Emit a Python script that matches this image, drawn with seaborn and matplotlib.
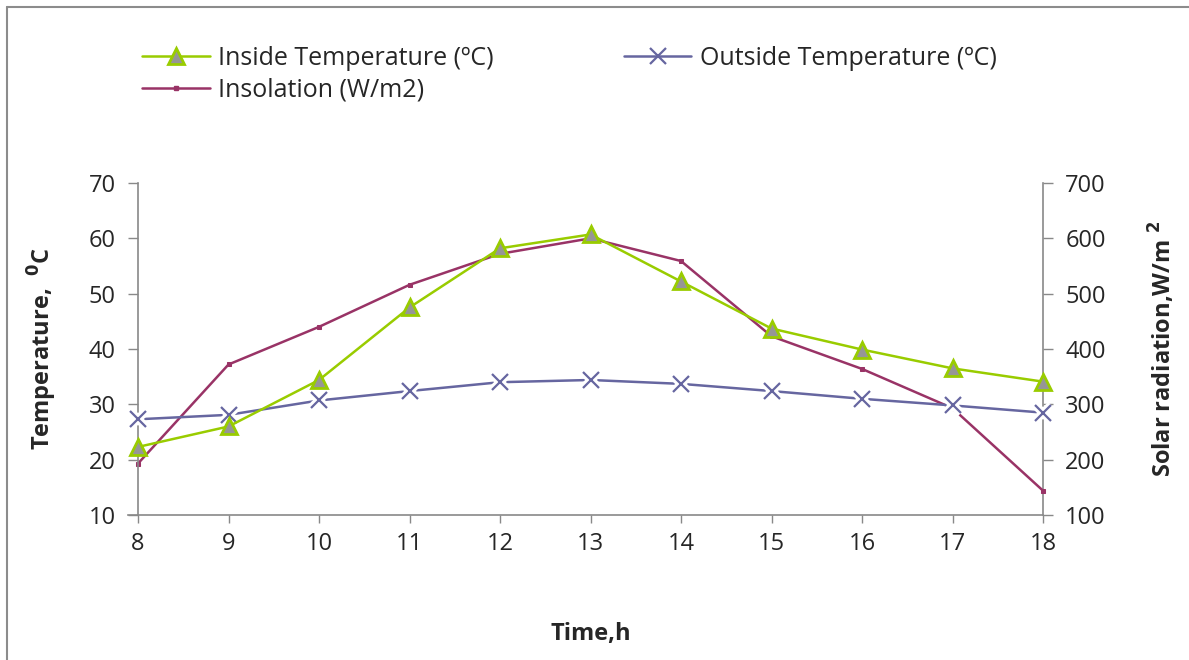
import matplotlib
matplotlib.use("Agg")
import matplotlib.pyplot as plt
import seaborn as sns
from matplotlib.lines import Line2D

hours = [8, 9, 10, 11, 12, 13, 14, 15, 16, 17, 18]
inside_temp = [22.3, 26.0, 34.4, 47.5, 58.2, 60.7, 52.2, 43.7, 39.9, 36.5, 34.1]
outside_temp = [27.3, 28.1, 30.7, 32.4, 34.0, 34.4, 33.7, 32.4, 31.0, 29.8, 28.5]
insolation = [193, 372, 440, 516, 572, 600, 559, 423, 364, 293, 144]

temp_ticks = [10, 20, 30, 40, 50, 60, 70]
rad_ticks = [100, 200, 300, 400, 500, 600, 700]

green = "#99CC00"
blue = "#6666A0"
maroon = "#993366"
grid_grey = "#898989"

sns.set_style("white")
plt.rcParams["font.family"] = ["Open Sans", "DejaVu Sans"]

fig = plt.figure(figsize=(11.89, 6.60), dpi=100)
ax = fig.add_axes([138 / 1189, 1 - 515 / 660, (1043 - 138) / 1189, (515 - 183) / 660])
ax2 = ax.twinx()

# inside temperature
sns.lineplot(x=hours, y=inside_temp, ax=ax, color=green, linewidth=1.8,
             marker="^", markersize=12, markerfacecolor="#969696",
             markeredgecolor=green, markeredgewidth=2, zorder=4, clip_on=False)
# outside temperature, white halo under the crosses like excel
sns.lineplot(x=hours, y=outside_temp, ax=ax, color=blue, linewidth=1.8, zorder=3,
             clip_on=False)
ax.plot(hours, outside_temp, linestyle="none", marker="x", markersize=12,
        markeredgecolor="white", markeredgewidth=6, zorder=3.5, clip_on=False)
ax.plot(hours, outside_temp, linestyle="none", marker="x", markersize=11,
        markeredgecolor=blue, markeredgewidth=1.6, zorder=3.6, clip_on=False)
# insolation on the right axis
sns.lineplot(x=hours, y=insolation, ax=ax2, color=maroon, linewidth=1.8,
             marker="s", markersize=2.5, markeredgecolor=maroon, zorder=3,
             clip_on=False)

ax.set_xlim(8, 18)
ax.set_ylim(10, 70)
ax2.set_ylim(100, 700)
ax.set_xticks(hours)
ax.set_yticks(temp_ticks)
ax2.set_yticks(rad_ticks)

for a in (ax, ax2):
    for s in a.spines.values():
        s.set_visible(False)
    a.grid(False)
ax.spines["left"].set_visible(True)
ax.spines["bottom"].set_visible(True)
ax2.spines["right"].set_visible(True)
for s in (ax.spines["left"], ax.spines["bottom"], ax2.spines["right"]):
    s.set_color(grid_grey)
    s.set_linewidth(1.2)
ax.spines["bottom"].set_bounds(7.89, 18)

ax.tick_params(axis="y", direction="out", length=7, width=1, color=grid_grey,
               labelsize=17, pad=9, left=True)
ax.tick_params(axis="x", direction="out", length=6, width=1, color=grid_grey,
               labelsize=17, pad=6, bottom=True)
ax2.tick_params(axis="y", direction="out", length=7, width=1, color=grid_grey,
                labelsize=17, pad=9, right=True)

ax.set_xlabel("Time,h", fontsize=17, fontweight="bold", labelpad=48)
ax.set_ylabel(r"Temperature,  $^{\mathbf{0}}$C", fontsize=17, fontweight="bold", labelpad=21)
ax2.set_ylabel(r"Solar radiation,W/m $^{\mathbf{2}}$", fontsize=17, fontweight="bold", labelpad=30)

ax.set_zorder(ax2.get_zorder() + 1)
ax.patch.set_visible(False)

h_in = Line2D([], [], color=green, linewidth=1.8, marker="^", markersize=12,
              markerfacecolor="#969696", markeredgecolor=green, markeredgewidth=2)
h_out = Line2D([], [], color=blue, linewidth=1.8, marker="x", markersize=11,
               markeredgewidth=1.6)
h_sol = Line2D([], [], color=maroon, linewidth=1.8, marker="s", markersize=2.5)
fig.legend([h_in, h_sol, h_out],
           ["Inside Temperature (ºC)", "Insolation (W/m2)", "Outside Temperature (ºC)"],
           ncol=2, loc="upper left", bbox_to_anchor=(132 / 1189, 1 - 36 / 660),
           frameon=False, fontsize=18, handlelength=2.7, handletextpad=0.35,
           columnspacing=5.2, labelspacing=0.25, borderaxespad=0)

# thin outer frame seen at top and left
fig.add_artist(Line2D([7 / 1189, 7 / 1189], [0, 1 - 7 / 660], color="#8c8c8c", linewidth=1.5))
fig.add_artist(Line2D([7 / 1189, 1], [1 - 7 / 660, 1 - 7 / 660], color="#8c8c8c", linewidth=1.5))

fig.savefig("out.png", dpi=100)
